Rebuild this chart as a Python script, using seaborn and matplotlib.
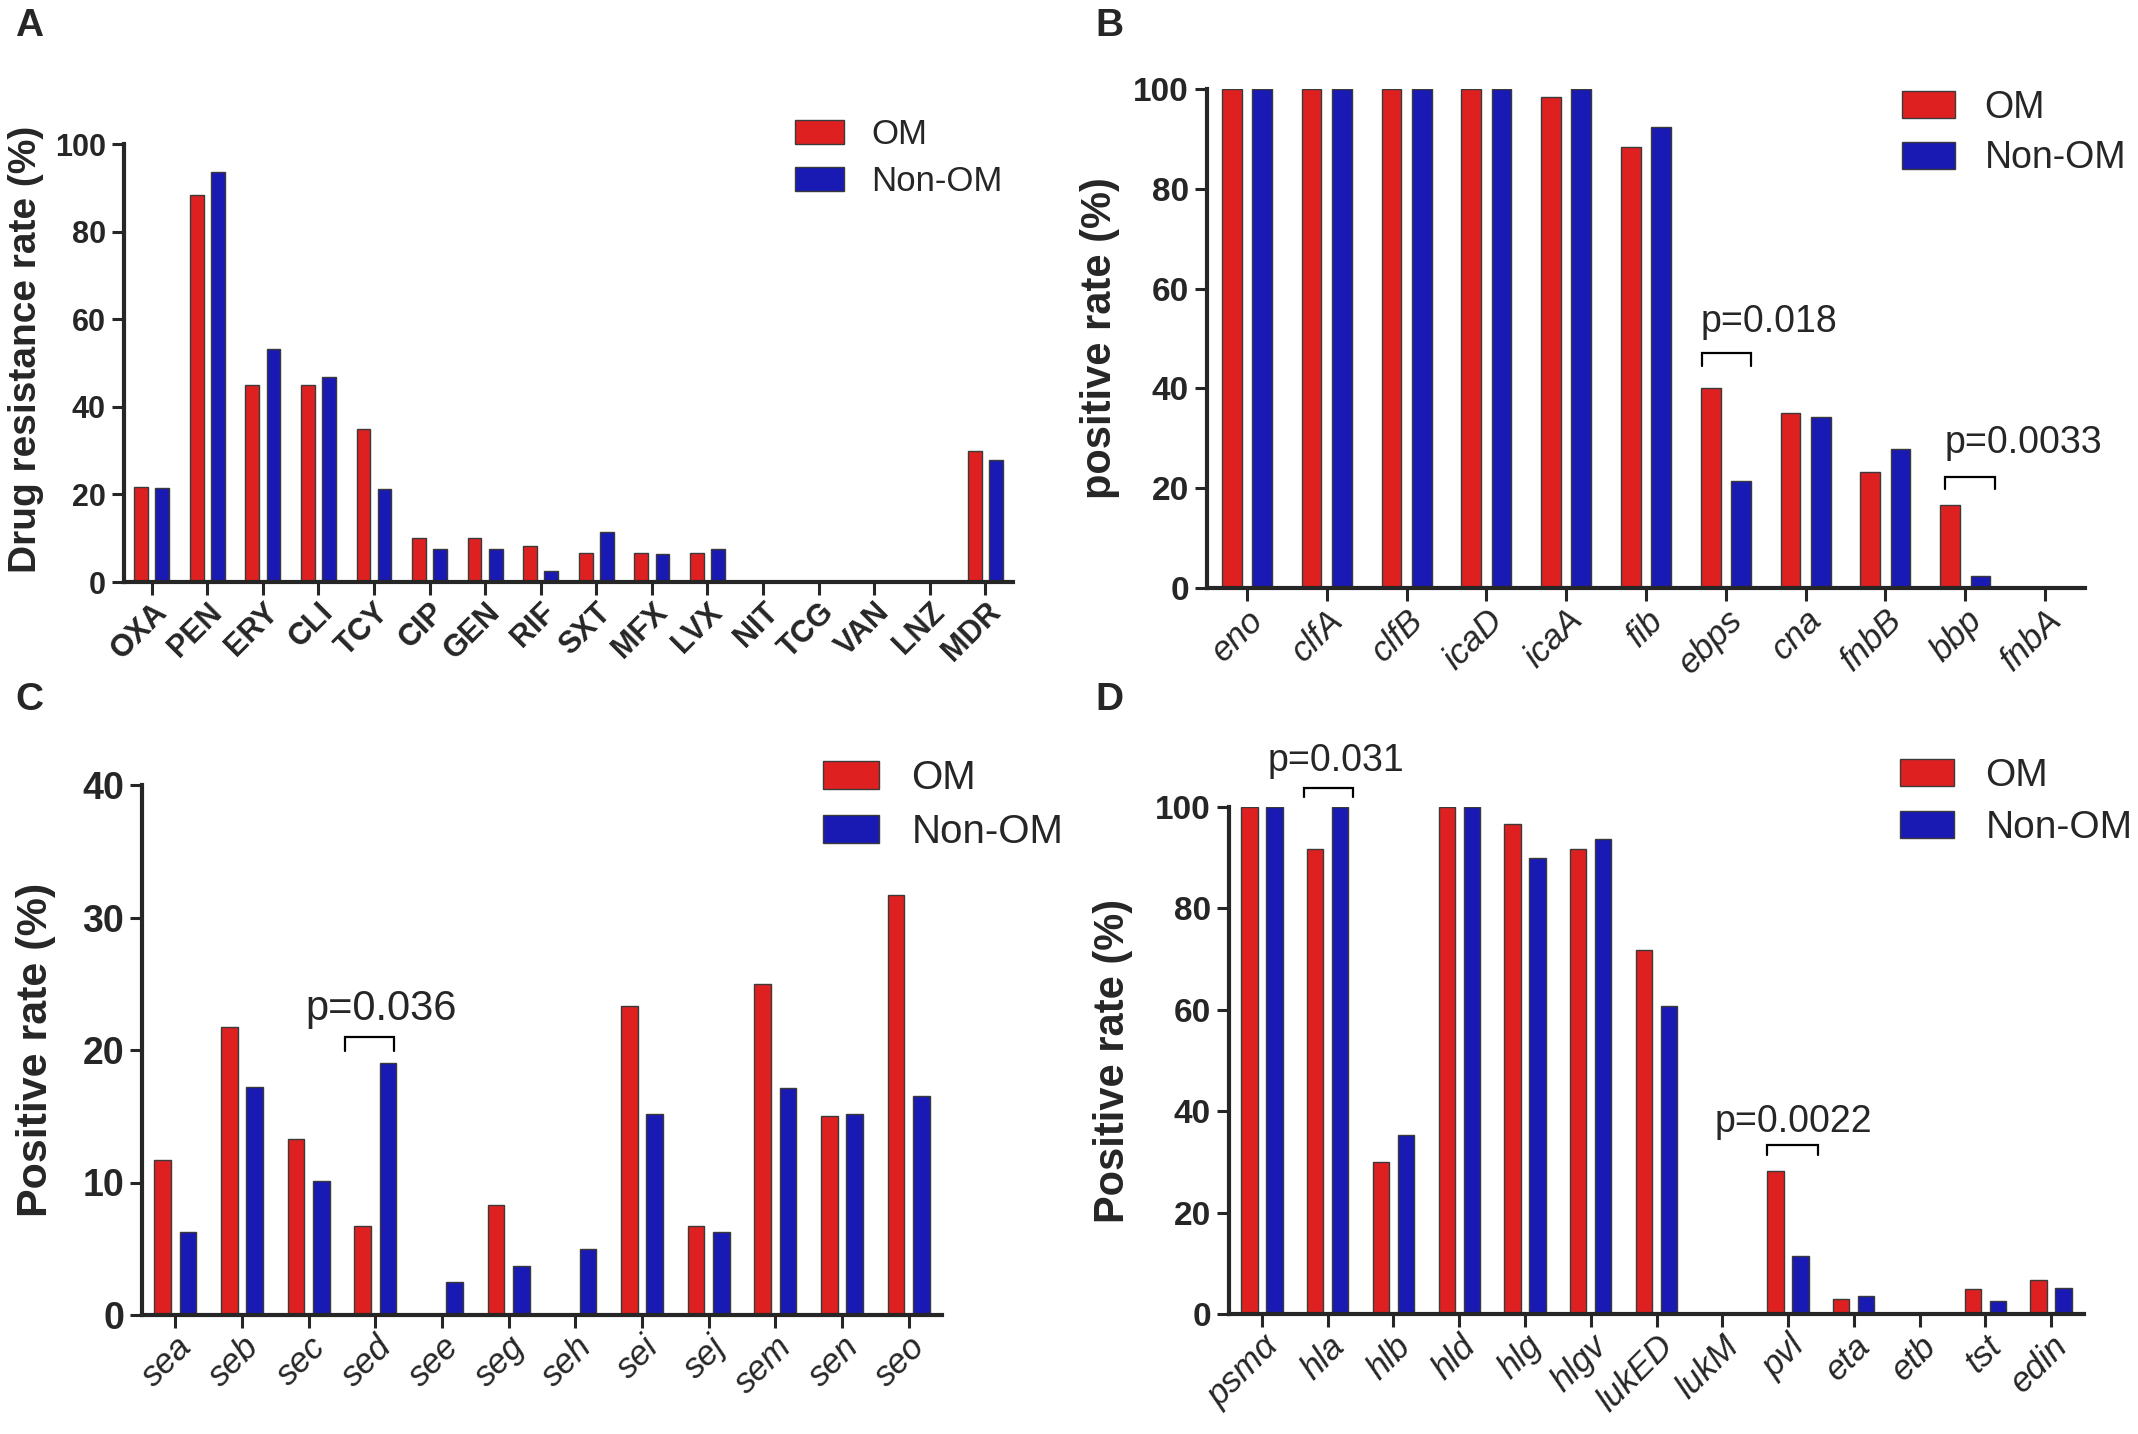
import numpy as np
import pandas as pd
import matplotlib
matplotlib.use('Agg')
import matplotlib.pyplot as plt
import seaborn as sns

sns.set_style('ticks')
plt.rcParams['font.family'] = ['Liberation Sans', 'DejaVu Sans']

W, H = 2138, 1434
group_names = ['OM', 'Non-OM']
palette = {'OM': '#FF0000', 'Non-OM': '#0000CC'}

# Panel A: drug resistance
drugs = ['OXA', 'PEN', 'ERY', 'CLI', 'TCY', 'CIP', 'GEN', 'RIF', 'SXT', 'MFX',
         'LVX', 'NIT', 'TCG', 'VAN', 'LNZ', 'MDR']
drug_om = [21.7, 88.3, 45.0, 45.0, 35.0, 10.0, 10.0, 8.3, 6.7, 6.7, 6.7, 0, 0, 0, 0, 30.0]
drug_non = [21.5, 93.7, 53.2, 46.8, 21.3, 7.6, 7.6, 2.5, 11.4, 6.3, 7.6, 0, 0, 0, 0, 27.8]

# Panel B: adhesion genes
adh_genes = ['eno', 'clfA', 'clfB', 'icaD', 'icaA', 'fib', 'ebps', 'cna', 'fnbB', 'bbp', 'fnbA']
adh_om = [100, 100, 100, 100, 98.3, 88.3, 40.0, 35.0, 23.3, 16.7, 0]
adh_non = [100, 100, 100, 100, 100, 92.4, 21.5, 34.2, 27.8, 2.5, 0]

# Panel C: enterotoxin genes
ent_genes = ['sea', 'seb', 'sec', 'sed', 'see', 'seg', 'seh', 'sei', 'sej', 'sem', 'sen', 'seo']
ent_om = [11.7, 21.7, 13.3, 6.7, 0, 8.3, 0, 23.3, 6.7, 25.0, 15.0, 31.7]
ent_non = [6.3, 17.2, 10.1, 19.0, 2.5, 3.7, 5.0, 15.2, 6.3, 17.1, 15.2, 16.5]

# Panel D: toxin genes
tox_genes = ['psmα', 'hla', 'hlb', 'hld', 'hlg', 'hlgv', 'lukED', 'lukM', 'pvl', 'eta',
             'etb', 'tst', 'edin']
tox_om = [100, 91.7, 30.0, 100, 96.7, 91.7, 71.7, 0, 28.3, 3.0, 0, 5.0, 6.7]
tox_non = [100, 100, 35.3, 100, 89.9, 93.7, 60.8, 0, 11.4, 3.6, 0, 2.5, 5.1]


def to_long(cats, om, non):
    return pd.DataFrame({
        'gene': cats + cats,
        'group': ['OM'] * len(cats) + ['Non-OM'] * len(cats),
        'rate': om + non,
    })


def make_panel(box, cats, om, non, ymax, ystep, ylabel, ylab_x, ylab_y,
               tick_fs, xlab_fs, ylab_fs, leg_fs, leg_pos, xlab_kw):
    l, r, t, b = box
    ax = fig.add_axes([l / W, 1 - b / H, (r - l) / W, (b - t) / H])
    df = to_long(cats, om, non)
    sns.barplot(data=df, x='gene', y='rate', hue='group', hue_order=group_names,
                palette=palette, width=0.76, gap=0.35, edgecolor='#3a3a3a',
                linewidth=1, ax=ax)
    ax.set_xlim(-0.5, len(cats) - 0.5)
    ax.set_ylim(0, ymax)
    ax.set_yticks(np.arange(0, ymax + 1, ystep))
    ax.set_xticks(range(len(cats)))
    ax.set_xticklabels(cats, rotation=45, ha='right', rotation_mode='anchor',
                       fontsize=xlab_fs, **xlab_kw)
    for lbl in ax.get_yticklabels():
        lbl.set_fontweight('bold')
        lbl.set_fontsize(tick_fs)
    sns.despine(ax=ax)
    for s in ['left', 'bottom']:
        ax.spines[s].set_linewidth(3)
    ax.tick_params(axis='y', width=2.2, length=9, pad=4)
    ax.tick_params(axis='x', width=2.2, length=9, pad=2)
    ax.set_xlabel('')
    ax.set_ylabel(ylabel, fontsize=ylab_fs, fontweight='bold')
    ax.yaxis.label.set_verticalalignment('top')
    ax.yaxis.set_label_coords((ylab_x - l) / (r - l), ylab_y)
    sns.move_legend(ax, 'center left',
                    bbox_to_anchor=(leg_pos[0] / W, 1 - leg_pos[1] / H),
                    bbox_transform=fig.transFigure, frameon=False, title='',
                    fontsize=leg_fs, handlelength=1.4, handleheight=0.7,
                    handletextpad=0.8, labelspacing=0.4, borderpad=0,
                    borderaxespad=0)
    return ax


def bracket(ax, x0, x1, ytop, ybot, text, tx, ty, fs):
    ax.plot([x0, x0, x1, x1], [ybot, ytop, ytop, ybot], color='black', lw=1.6,
            clip_on=False, solid_joinstyle='miter')
    ax.text(tx, ty, text, fontsize=fs, ha='left', va='baseline', clip_on=False)


fig = plt.figure(figsize=(W / 100, H / 100), dpi=100)

axA = make_panel((124, 1013, 144, 582), drugs, drug_om, drug_non, 100, 20,
                 'Drug resistance rate (%)', 8, 0.53, 22, 22, 28, 25, (795, 158),
                 {'fontweight': 'bold'})
axB = make_panel((1207, 2085, 89, 588), adh_genes, adh_om, adh_non, 100, 20,
                 'positive rate (%)', 1080, 0.5, 24, 25, 30, 27, (1902, 133),
                 {'fontstyle': 'italic'})
axC = make_panel((142, 942, 785, 1315), ent_genes, ent_om, ent_non, 40, 10,
                 'Positive rate (%)', 16, 0.5, 27, 25, 31, 29, (823, 805),
                 {'fontstyle': 'italic'})
axD = make_panel((1229, 2084, 807, 1314), tox_genes, tox_om, tox_non, 100, 20,
                 'Positive rate (%)', 1093, 0.5, 24, 25, 30, 28, (1900, 802),
                 {'fontstyle': 'italic'})

bracket(axB, 5.70, 6.32, 47.1, 44.5, 'p=0.018', 5.69, 51.4, 27)
bracket(axB, 8.74, 9.37, 22.2, 19.9, 'p=0.0033', 8.74, 27.0, 27)
bracket(axC, 2.54, 3.28, 21.0, 19.9, 'p=0.036', 1.95, 22.3, 30)
bracket(axD, 0.64, 1.38, 103.7, 102.0, 'p=0.031', 0.08, 107.1, 27)
bracket(axD, 7.68, 8.45, 33.4, 31.3, 'p=0.0022', 6.88, 35.8, 27)

for letter, x, y in [('A', 15, 8), ('B', 1095, 8), ('C', 15, 682), ('D', 1095, 682)]:
    fig.text(x / W, 1 - y / H, letter, fontsize=28, fontweight='bold', ha='left', va='top')

fig.savefig('out.png', dpi=100)
